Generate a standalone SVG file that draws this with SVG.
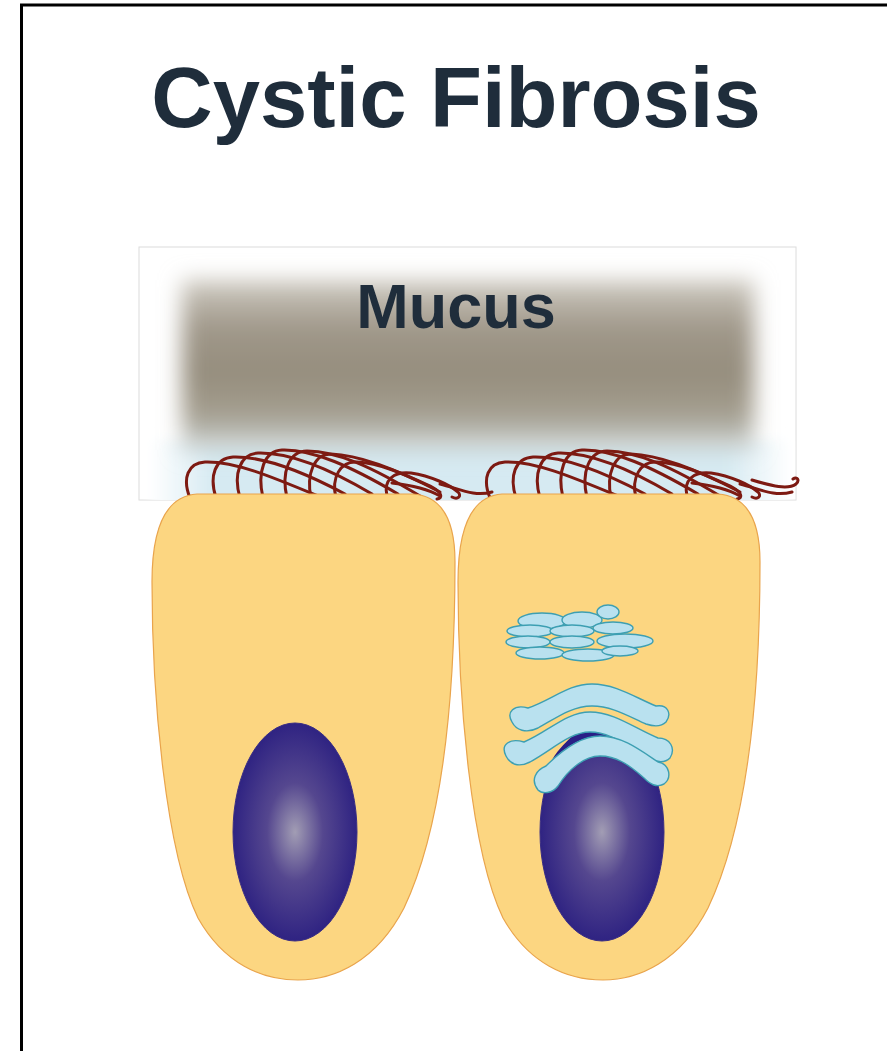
<svg xmlns="http://www.w3.org/2000/svg" width="887" height="1051" viewBox="0 0 887 1051">
  <defs>
    <style>
      .title { font-family: "Liberation Sans", Arial, sans-serif; font-weight: bold; fill: #1f2d3b; text-anchor: middle; }
      .cell { fill: #fcd681; stroke: #e9a44c; stroke-width: 1.2; }
      .cilium { fill: none; stroke: #7d1a12; stroke-width: 3; stroke-linecap: round; }
      .golgi { fill: #b9e1ef; stroke: #3d9fb2; stroke-width: 1.4; }
    </style>
    <linearGradient id="mucusGrad" x1="0" y1="0" x2="0" y2="1">
      <stop offset="0" stop-color="#cfcbc2"/>
      <stop offset="0.28" stop-color="#a0988a"/>
      <stop offset="0.55" stop-color="#958d7d"/>
      <stop offset="0.8" stop-color="#a59f90"/>
      <stop offset="1" stop-color="#d0d9da"/>
    </linearGradient>
    <linearGradient id="lumenGrad" x1="0" y1="0" x2="1" y2="0">
      <stop offset="0" stop-color="#ffffff"/>
      <stop offset="0.1" stop-color="#d6eaf2"/>
      <stop offset="0.9" stop-color="#d6eaf2"/>
      <stop offset="1" stop-color="#ffffff"/>
    </linearGradient>
    <radialGradient id="nucleusGrad" cx="0.5" cy="0.5" r="0.5">
      <stop offset="0" stop-color="#a29db4"/>
      <stop offset="0.45" stop-color="#55478f"/>
      <stop offset="1" stop-color="#2f2382"/>
    </radialGradient>
    <filter id="soft" x="-20%" y="-30%" width="140%" height="160%">
      <feGaussianBlur stdDeviation="11"/>
    </filter>
    <filter id="softer" x="-10%" y="-50%" width="120%" height="200%">
      <feGaussianBlur stdDeviation="6"/>
    </filter>
    <clipPath id="boxClip">
      <rect x="139" y="247" width="657" height="253"/>
    </clipPath>
    <!-- one tuft of cilia, reused for both cells -->
    <g id="tuft">
      <path class="cilium" d="M190,498 C182,478 188,463 205,462 C234,461 270,476 318,496"/>
      <path class="cilium" d="M216,498 C209,476 215,458 233,457 C263,456 302,471 345,494"/>
      <path class="cilium" d="M240,498 C233,474 240,454 258,453 C290,452 330,469 372,494"/>
      <path class="cilium" d="M263,498 C257,472 264,451 282,450 C313,449 352,467 398,494"/>
      <path class="cilium" d="M287,498 C281,472 289,451 307,451 C337,451 372,467 420,496"/>
      <path class="cilium" d="M311,498 C306,474 314,454 331,454 C361,455 400,471 440,492"/>
      <path class="cilium" d="M336,498 C331,478 340,461 357,462 C381,463 408,476 432,487 C441,492 444,498 437,499"/>
      <path class="cilium" d="M387,496 C383,480 394,471 411,473 C431,476 450,485 458,492 C462,496 458,500 452,497"/>
      <path class="cilium" d="M392,483 C410,485 428,489 440,496"/>
      <path class="cilium" d="M440,484 C460,489 474,497 492,492"/>
    </g>
  </defs>

  <!-- frame -->
  <path d="M21.5,1051 L21.5,5 L887,5" fill="none" stroke="#000" stroke-width="3"/>

  <!-- title -->
  <g id="title">
    <text class="title" x="456" y="127" font-size="85">Cystic Fibrosis</text>
  </g>

  <!-- mucus layer above the epithelium -->
  <g id="mucus">
    <rect x="139" y="247" width="657" height="253" fill="#ffffff" stroke="#dcdcdc" stroke-width="1"/>
    <g clip-path="url(#boxClip)">
      <rect x="150" y="440" width="640" height="70" fill="url(#lumenGrad)" filter="url(#softer)"/>
      <rect x="182" y="280" width="572" height="170" fill="url(#mucusGrad)" filter="url(#soft)"/>
    </g>
    <text class="title" x="456" y="328" font-size="63">Mucus</text>
  </g>

  <!-- cilia -->
  <g id="cilia">
    <use href="#tuft"/>
    <use href="#tuft" transform="translate(300,0)"/>
    <path class="cilium" d="M752,480 C772,486 788,490 796,484 C800,480 797,476 793,479"/>
  </g>

  <!-- left epithelial cell -->
  <g id="cell-left">
    <path class="cell" d="M197,494 L413,494 Q455,497 455,562 C455,700 442,828 404,908 C376,962 334,980 298,980 C262,980 224,964 198,918 C166,852 152,700 152,582 Q152,497 197,494 Z"/>
    <ellipse cx="295" cy="832" rx="62" ry="109" fill="url(#nucleusGrad)" stroke="#3a2e84" stroke-width="1"/>
  </g>

  <!-- right epithelial cell with Golgi / ER -->
  <g id="cell-right">
    <path class="cell" d="M502,494 L718,494 Q760,497 760,562 C760,700 746,828 708,908 C680,962 638,980 603,980 C567,980 529,964 503,918 C471,852 458,700 458,582 Q458,497 502,494 Z"/>
    <ellipse cx="602" cy="832" rx="62" ry="109" fill="url(#nucleusGrad)" stroke="#3a2e84" stroke-width="1"/>
    <!-- dark crescent at the top of the nucleus -->
    <path d="M552,760 C570,730 600,718 628,728 C640,734 650,744 656,756 C630,742 600,740 574,756 Z" fill="#2a1f86"/>

    <!-- Golgi stack -->
    <g id="golgi">
      <ellipse class="golgi" cx="542" cy="621" rx="24" ry="8"/>
      <ellipse class="golgi" cx="582" cy="620" rx="20" ry="8"/>
      <ellipse class="golgi" cx="608" cy="612" rx="11" ry="7"/>
      <ellipse class="golgi" cx="530" cy="631" rx="23" ry="6"/>
      <ellipse class="golgi" cx="572" cy="631" rx="22" ry="6"/>
      <ellipse class="golgi" cx="613" cy="628" rx="20" ry="6"/>
      <ellipse class="golgi" cx="528" cy="642" rx="22" ry="6"/>
      <ellipse class="golgi" cx="572" cy="642" rx="22" ry="6"/>
      <ellipse class="golgi" cx="625" cy="641" rx="28" ry="7"/>
      <ellipse class="golgi" cx="540" cy="653" rx="24" ry="6"/>
      <ellipse class="golgi" cx="588" cy="655" rx="26" ry="6"/>
      <ellipse class="golgi" cx="620" cy="651" rx="18" ry="5"/>
    </g>

    <!-- endoplasmic reticulum arcs over the nucleus -->
    <g id="er">
      <path class="golgi" d="M512,722 C506,712 514,704 528,708 C552,700 568,684 592,684 C616,684 636,698 656,706 C668,704 672,714 666,722 C660,728 652,726 646,724 C628,716 612,706 592,706 C572,706 556,718 538,728 C526,734 516,730 512,722 Z"/>
      <path class="golgi" d="M506,756 C500,744 510,738 524,742 C548,732 566,712 590,712 C614,712 634,728 658,738 C670,738 676,748 670,758 C664,764 656,762 648,758 C628,748 612,732 590,732 C570,732 552,750 530,762 C518,768 510,764 506,756 Z"/>
      <path class="golgi" d="M538,790 C530,780 536,770 546,766 C562,750 580,736 600,736 C622,736 640,750 658,762 C670,764 672,778 664,784 C656,788 650,784 644,778 C628,764 616,756 600,756 C584,756 568,770 558,786 C552,794 542,794 538,790 Z"/>
    </g>
  </g>
</svg>
